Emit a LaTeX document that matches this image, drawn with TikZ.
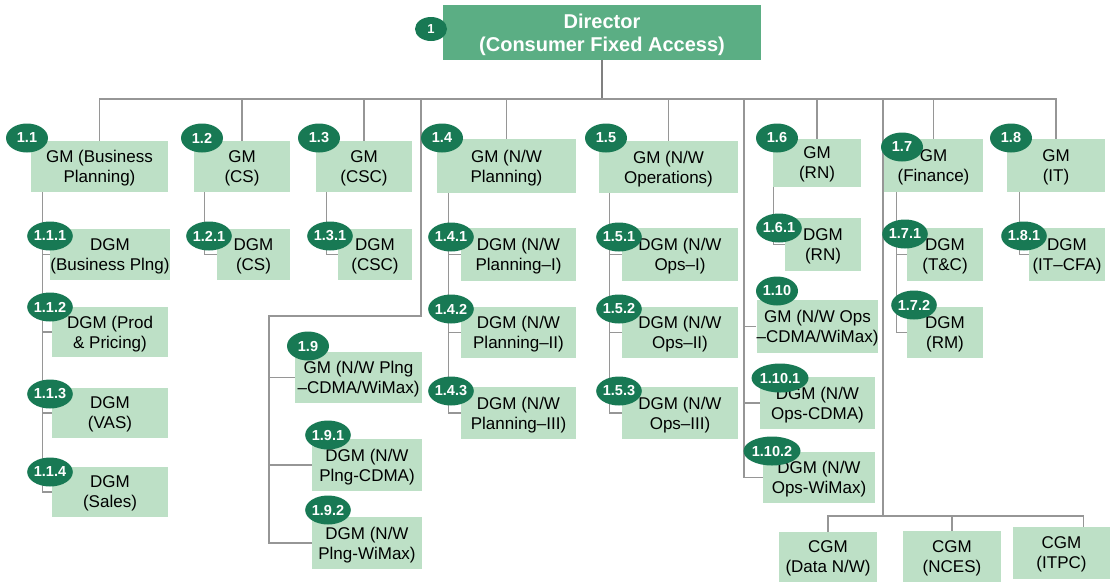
\documentclass[tikz,border=0pt]{standalone}
\usepackage{fontspec}
\setmainfont{Liberation Sans}
\usepackage{tikz}
\usetikzlibrary{shapes.geometric, positioning, backgrounds}
\usepackage{xcolor}
\definecolor{dirgreen}{RGB}{91,174,132}
\definecolor{boxgreen}{RGB}{189,224,198}
\definecolor{badgegreen}{RGB}{24,121,84}
\definecolor{linegray}{RGB}{150,150,150}

\begin{document}
\begin{tikzpicture}[
  x=1pt, y=-1pt,
  dirbox/.style={rectangle, fill=dirgreen, text=white, inner sep=0pt, align=center,
    text depth=0pt, font=\fontsize{20}{23}\selectfont\bfseries},
  box/.style={rectangle, fill=boxgreen, inner sep=0pt, align=center,
    text depth=0pt, font=\fontsize{17}{20}\selectfont},
  sz/.style 2 args={minimum width=#1pt, minimum height=#2pt},
  badge/.style={ellipse, fill=badgegreen, text=white, inner sep=0pt,
    minimum width=42pt, minimum height=29pt, font=\fontsize{14.5}{15}\selectfont\bfseries},
  link/.style={draw=linegray, line width=1.2pt},
  stem/.style={draw=gray, line width=1.8pt}
]
\useasboundingbox (0,0) rectangle (1110,582);

\node (dir) [dirbox, sz={318}{55}] at (602,32.5) {Director\\(Consumer Fixed Access)};

\node (gm11) [box, sz={137}{51}] at (99.5,166.5) {GM (Business\\Planning)};
\node (gm12) [box, sz={96}{51}] at (242,166.5) {GM\\(CS)};
\node (gm13) [box, sz={96}{51}] at (364,166.5) {GM\\(CSC)};
\node (gm14) [box, sz={139}{54}] at (506.5,166) {GM (N/W\\Planning)};
\node (gm15) [box, sz={139}{52}] at (668.5,167) {GM (N/W\\Operations)};
\node (gm16) [box, sz={88}{48}] at (817,163) {GM\\(RN)};
\node (gm17) [box, sz={99}{53}] at (933.5,165.5) {GM\\(Finance)};
\node (gm18) [box, sz={98}{53}] at (1056,165.5) {GM\\(IT)};

\node (dgm111) [box, sz={116}{51}] at (110,254.5) {DGM\\(Business Plng)};
\node (dgm112) [box, sz={116}{50}] at (110,332) {DGM (Prod\\\& Pricing)};
\node (dgm113) [box, sz={116}{50}] at (110,413) {DGM\\(VAS)};
\node (dgm114) [box, sz={116}{50}] at (110,492) {DGM\\(Sales)};

\node (dgm121) [box, sz={73}{51}] at (253.5,254.5) {DGM\\(CS)};
\node (dgm131) [box, sz={74}{51}] at (375,254.5) {DGM\\(CSC)};

\node (gm19) [box, sz={127}{51}] at (358.5,377.5) {GM (N/W Plng\\–CDMA/WiMax)};
\node (dgm191) [box, sz={110}{52}] at (367,465) {DGM (N/W\\Plng-CDMA)};
\node (dgm192) [box, sz={110}{52}] at (367,543) {DGM (N/W\\Plng-WiMax)};

\node (dgm141) [box, sz={115}{53}] at (518.5,254.5) {DGM (N/W\\Planning–I)};
\node (dgm142) [box, sz={115}{51}] at (518.5,332.5) {DGM (N/W\\Planning–II)};
\node (dgm143) [box, sz={115}{52}] at (518.5,413) {DGM (N/W\\Planning–III)};

\node (dgm151) [box, sz={116}{53}] at (680,254.5) {DGM (N/W\\Ops–I)};
\node (dgm152) [box, sz={116}{51}] at (680,332.5) {DGM (N/W\\Ops–II)};
\node (dgm153) [box, sz={116}{52}] at (680,413) {DGM (N/W\\Ops–III)};

\node (dgm161) [box, sz={76}{53}] at (823,244.5) {DGM\\(RN)};
\node (gm110) [box, sz={115}{53}] at (817.5,326.5) {GM (N/W Ops\\–CDMA/WiMax)};
\node (dgm1101) [box, sz={115}{52}] at (817.5,403) {DGM (N/W\\Ops-CDMA)};
\node (dgm1102) [box, sz={112}{51}] at (819,477.5) {DGM (N/W\\Ops-WiMax)};

\node (dgm171) [box, sz={76}{53}] at (945,254.5) {DGM\\(T\&C)};
\node (dgm172) [box, sz={76}{51}] at (945,332.5) {DGM\\(RM)};
\node (dgm181) [box, sz={76}{53}] at (1067,254.5) {DGM\\(IT–CFA)};

\node (cgm1) [box, sz={98}{50}] at (828,557) {CGM\\(Data N/W)};
\node (cgm2) [box, sz={98}{51}] at (952,556.5) {CGM\\(NCES)};
\node (cgm3) [box, sz={97}{52}] at (1061.5,553) {CGM\\(ITPC)};

\node (b1) [badge, minimum width=32pt, minimum height=24pt, font=\fontsize{13}{13}\selectfont\bfseries] at (431,29) {1};
\node (b11) [badge] at (27,138) {1.1};
\node (b12) [badge] at (202,138) {1.2};
\node (b13) [badge] at (319,138) {1.3};
\node (b14) [badge] at (442,138) {1.4};
\node (b15) [badge] at (606,138) {1.5};
\node (b16) [badge] at (777,138) {1.6};
\node (b17) [badge] at (902,147) {1.7};
\node (b18) [badge] at (1011,138) {1.8};
\node (b111) [badge] at (50,236) {1.1.1};
\node (b112) [badge] at (50,307) {1.1.2};
\node (b113) [badge] at (50,394) {1.1.3};
\node (b114) [badge] at (50,472) {1.1.4};
\node (b121) [badge] at (209,236) {1.2.1};
\node (b131) [badge] at (330,236) {1.3.1};
\node (b19) [badge] at (308,346) {1.9};
\node (b191) [badge] at (328,435) {1.9.1};
\node (b192) [badge] at (328,510) {1.9.2};
\node (b141) [badge] at (451,237) {1.4.1};
\node (b142) [badge] at (451,309) {1.4.2};
\node (b143) [badge] at (451,391) {1.4.3};
\node (b151) [badge] at (619,237) {1.5.1};
\node (b152) [badge] at (619,309) {1.5.2};
\node (b153) [badge] at (619,391) {1.5.3};
\node (b161) [badge] at (779,228) {1.6.1};
\node (b110) [badge] at (777,291) {1.10};
\node (b1101) [badge, minimum width=47pt] at (780,378) {1.10.1};
\node (b1102) [badge, minimum width=47pt] at (772,451) {1.10.2};
\node (b171) [badge] at (905,234) {1.7.1};
\node (b172) [badge] at (914,305) {1.7.2};
\node (b181) [badge] at (1024,236) {1.8.1};

\coordinate (bus) at (602,99);
\coordinate (t19) at (421,99);
\coordinate (j19) at (269,316);
\coordinate (t110) at (744,99);
\coordinate (tcgm) at (883,99);
\coordinate (jcgm) at (883,516);

\begin{scope}[on background layer]
\draw [stem] (dir.south) -- (bus);
\draw [link] (gm11.north) |- (bus);
\draw [link] (gm12.north) |- (bus);
\draw [link] (gm13.north) |- (bus);
\draw [link] (gm14.north) |- (bus);
\draw [link] (gm15.north) |- (bus);
\draw [link] (gm16.north) |- (bus);
\draw [link] (gm17.north) |- (bus);
\draw [link] (gm18.north) |- (bus);

\draw [link] ([xshift=12pt]gm11.south west) |- (dgm111.west);
\draw [link] ([xshift=12pt]gm11.south west) |- (dgm112.west);
\draw [link] ([xshift=12pt]gm11.south west) |- (dgm113.west);
\draw [link] ([xshift=12pt]gm11.south west) |- (dgm114.west);
\draw [link] ([xshift=11pt]gm12.south west) |- (dgm121.west);
\draw [link] ([xshift=11pt]gm13.south west) |- (dgm131.west);

\draw [link] (t19) |- (j19) |- (gm19.west);
\draw [link] (j19) |- (dgm191.west);
\draw [link] (j19) |- (dgm192.west);

\draw [link] ([xshift=12pt]gm14.south west) |- (dgm141.west);
\draw [link] ([xshift=12pt]gm14.south west) |- (dgm142.west);
\draw [link] ([xshift=12pt]gm14.south west) |- (dgm143.west);
\draw [link] ([xshift=11pt]gm15.south west) |- (dgm151.west);
\draw [link] ([xshift=11pt]gm15.south west) |- (dgm152.west);
\draw [link] ([xshift=11pt]gm15.south west) |- (dgm153.west);

\draw [link] ([xshift=1pt]gm16.south west) |- (dgm161.west);
\draw [link] (t110) |- (gm110.west);
\draw [link] (t110) |- (dgm1101.west);
\draw [link] (t110) |- (dgm1102.west);

\draw [link] ([xshift=13pt]gm17.south west) |- (dgm171.west);
\draw [link] ([xshift=13pt]gm17.south west) |- (dgm172.west);
\draw [link] ([xshift=13pt]gm18.south west) |- (dgm181.west);

\draw [link] (tcgm) -- (jcgm);
\draw [link] (jcgm) -| (cgm1.north);
\draw [link] (jcgm) -| (cgm2.north);
\draw [link] (jcgm) -| ([xshift=22pt]cgm3.north);
\end{scope}

\end{tikzpicture}
\end{document}
